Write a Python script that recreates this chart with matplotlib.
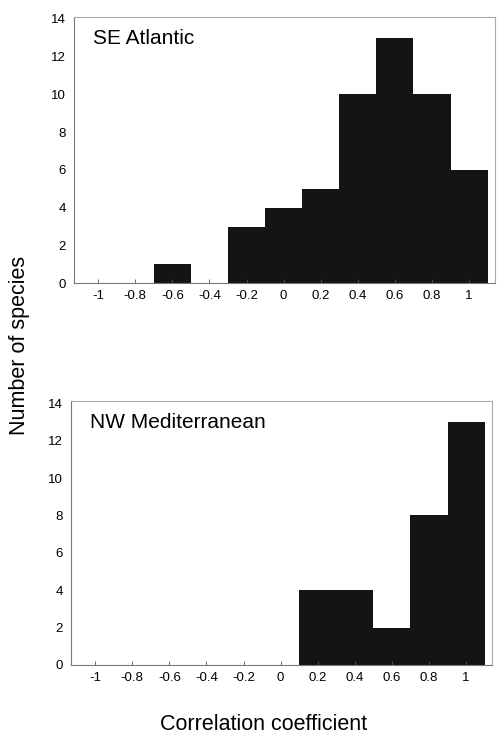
import matplotlib

matplotlib.use("Agg")
import matplotlib.pyplot as plt

# bin centres (width 0.2) and counts
bin_centres = [-1.0, -0.8, -0.6, -0.4, -0.2, 0.0, 0.2, 0.4, 0.6, 0.8, 1.0]
se_atlantic = [0, 0, 1, 0, 3, 4, 5, 10, 13, 10, 6]
nw_mediterranean = [0, 0, 0, 0, 0, 0, 4, 4, 2, 8, 13]

x_ticks = [-1, -0.8, -0.6, -0.4, -0.2, 0, 0.2, 0.4, 0.6, 0.8, 1]
x_labels = ["-1", "-0.8", "-0.6", "-0.4", "-0.2", "0", "0.2", "0.4", "0.6", "0.8", "1"]
y_ticks = [0, 2, 4, 6, 8, 10, 12, 14]

plt.rcParams["font.family"] = ["Liberation Sans", "DejaVu Sans"]

fig = plt.figure(figsize=(4.97, 7.36), dpi=100)
ax_top = fig.add_axes([0.149, 0.615, 0.847, 0.362])
ax_bot = fig.add_axes([0.143, 0.0965, 0.847, 0.358])

panels = [(ax_top, se_atlantic, "SE Atlantic"), (ax_bot, nw_mediterranean, "NW Mediterranean")]
for ax, counts, name in panels:
    ax.bar(bin_centres, counts, width=0.2, color="#141414", linewidth=0)
    ax.set_xlim(-1.13, 1.14)
    ax.set_ylim(0, 14.1)
    ax.set_xticks(x_ticks)
    ax.set_xticklabels(x_labels)
    ax.set_yticks(y_ticks)
    ax.tick_params(axis="x", direction="in", length=3, width=0.6, labelsize=9.5, pad=5, color="#555555")
    ax.tick_params(axis="y", length=0, labelsize=9.5, pad=6)
    for side in ["top", "right"]:
        ax.spines[side].set_color("#aaaaaa")
        ax.spines[side].set_linewidth(0.8)
    for side in ["left", "bottom"]:
        ax.spines[side].set_color("#777777")
        ax.spines[side].set_linewidth(0.8)
    ax.text(0.045, 0.955, name, transform=ax.transAxes, fontsize=15, va="top", ha="left")

fig.text(0.04, 0.531, "Number of species", rotation=90, fontsize=15.5, ha="center", va="center")
fig.text(0.53, 0.016, "Correlation coefficient", fontsize=15.5, ha="center", va="center")

fig.savefig("out.png", dpi=100)
plt.close(fig)
